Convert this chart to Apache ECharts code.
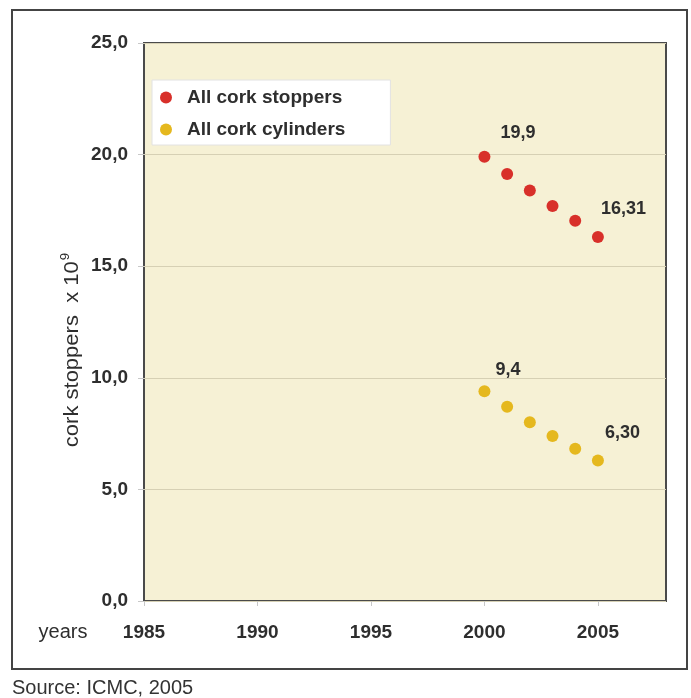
<!DOCTYPE html>
<html>
<head>
<meta charset="utf-8">
<script src="https://cdn.jsdelivr.net/npm/echarts@6/dist/echarts.min.js"></script>
<style>
	html, body { margin: 0; padding: 0; background: #fff; }
	#chart { width: 691px; height: 698px; }
</style>
</head>
<body>
<div id="chart"></div>
<script>
// data
var years = [2000, 2001, 2002, 2003, 2004, 2005];
var stoppers = [19.9, 19.13, 18.39, 17.70, 17.04, 16.31];
var cylinders = [9.4, 8.70, 8.01, 7.39, 6.82, 6.30];
var stopperEndLabels = ['19,9', '16,31'];
var cylinderEndLabels = ['9,4', '6,30'];
var seriesNames = ['All cork stoppers', 'All cork cylinders'];
var yTicks = [0, 5, 10, 15, 20, 25];
var xTicks = [1985, 1990, 1995, 2000, 2005];

var FONT = '"Liberation Sans", Arial, sans-serif';

/*
 * build the scatter points, first and last one get a value label
 */
function buildData(values, endLabels, firstPos, lastPos) {
	var data = [];
	for (var i = 0; i < values.length; i++) {
		var item = { value: [years[i], values[i]] };
		if (i == 0 || i == values.length - 1) {
			item.label = {
				show: true,
				position: i == 0 ? firstPos : lastPos,
				formatter: i == 0 ? endLabels[0] : endLabels[1],
				fontFamily: FONT,
				fontSize: 18,
				fontWeight: 'bold',
				color: '#2e2e2e'
			};
		}
		data.push(item);
	}
	return data;
}

function initCorkChart() {
	var myChart = echarts.init(document.getElementById('chart'));
	var option = {
		backgroundColor: '#fff',
		animation: false,
		grid: {
			left: 144,
			right: 25,
			top: 43,
			bottom: 97,
			show: true,
			backgroundColor: '#f6f1d5',
			borderColor: '#4a4a4a',
			borderWidth: 2
		},
		legend: {
			orient: 'vertical',
			left: 152,
			top: 80,
			backgroundColor: '#fff',
			borderColor: '#e2e2e2',
			borderWidth: 1,
			padding: [8, 45, 6, 8],
			itemWidth: 12,
			itemHeight: 12,
			itemGap: 13,
			icon: 'circle',
			selectedMode: false,
			textStyle: {
				fontFamily: FONT,
				fontSize: 19,
				fontWeight: 'bold',
				color: '#2e2e2e',
				lineHeight: 18,
				padding: [0, 0, 0, 10]
			},
			data: seriesNames
		},
		xAxis: {
			type: 'value',
			min: xTicks[0],
			max: 2008,
			interval: 5,
			axisLine: { show: false },
			axisTick: { show: true, length: 5, customValues: xTicks, lineStyle: { color: '#c8c8c8' } },
			splitLine: { show: false },
			axisLabel: {
				margin: 22,
				customValues: xTicks,
				fontFamily: FONT,
				fontSize: 19,
				fontWeight: 'bold',
				color: '#2e2e2e',
				formatter: function (v) { return String(v); }
			}
		},
		yAxis: {
			type: 'value',
			min: yTicks[0],
			max: yTicks[yTicks.length - 1],
			interval: 5,
			axisLine: { show: false },
			axisTick: { show: true, length: 6, lineStyle: { color: '#c8c8c8' } },
			splitLine: { show: true, lineStyle: { color: '#d6d0b4', width: 1 } },
			axisLabel: {
				margin: 16,
				fontFamily: FONT,
				fontSize: 19,
				fontWeight: 'bold',
				color: '#2e2e2e',
				formatter: function (v) { return v.toFixed(1).replace('.', ','); }
			}
		},
		graphic: [
			{
				type: 'rect',
				z: -10,
				silent: true,
				shape: { x: 12, y: 10, width: 675, height: 659 },
				style: { fill: 'none', stroke: '#444', lineWidth: 2 }
			},
			{
				type: 'text',
				x: 72,
				y: 350,
				rotation: Math.PI / 2,
				scaleX: 1.1,
				style: {
					text: '{a|cork stoppers  x 10}{s|9}',
					align: 'center',
					verticalAlign: 'middle',
					fill: '#2e2e2e',
					rich: {
						a: { fontFamily: FONT, fontSize: 20, color: '#2e2e2e' },
						s: { fontFamily: FONT, fontSize: 12, color: '#2e2e2e', padding: [0, 0, 12, 1] }
					}
				}
			},
			{
				type: 'text',
				x: 63,
				y: 632,
				style: {
					text: 'years',
					align: 'center',
					verticalAlign: 'middle',
					fontFamily: FONT,
					fontSize: 20,
					fill: '#2e2e2e'
				}
			},
			{
				type: 'text',
				x: 12,
				y: 688,
				style: {
					text: 'Source: ICMC, 2005',
					align: 'left',
					verticalAlign: 'middle',
					fontFamily: FONT,
					fontSize: 20,
					fill: '#333'
				}
			}
		],
		series: [
			{
				name: seriesNames[0],
				type: 'scatter',
				symbol: 'circle',
				symbolSize: 12,
				itemStyle: { color: '#d8302a', opacity: 1 },
				data: buildData(stoppers, stopperEndLabels, [22, -27], [9, -31])
			},
			{
				name: seriesNames[1],
				type: 'scatter',
				symbol: 'circle',
				symbolSize: 12,
				itemStyle: { color: '#e5b81e', opacity: 1 },
				data: buildData(cylinders, cylinderEndLabels, [17, -24], [13, -30])
			}
		]
	};
	myChart.setOption(option);
}

initCorkChart();
</script>
</body>
</html>
